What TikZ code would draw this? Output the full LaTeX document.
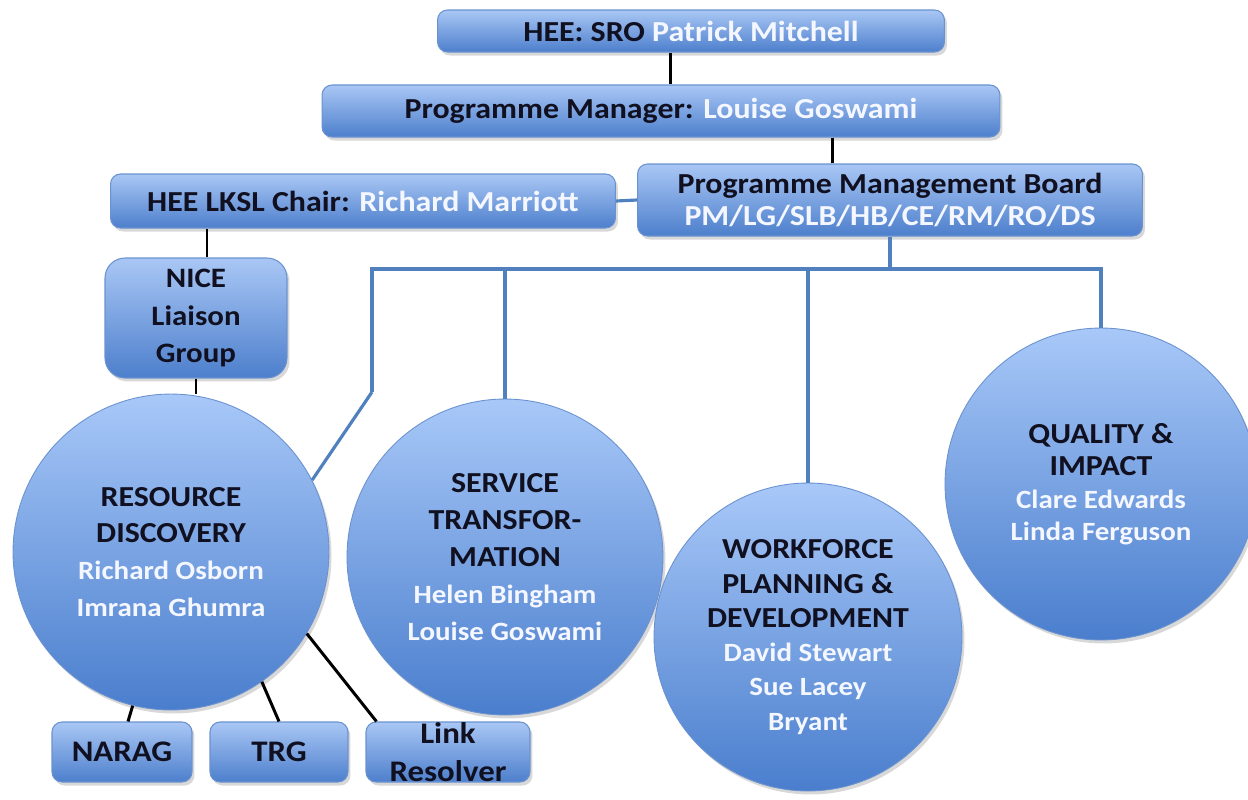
\documentclass[tikz,border=0pt]{standalone}
\usepackage{fontspec}
\setmainfont{Carlito}[FakeStretch=1.1]
\usetikzlibrary{shadows}
\definecolor{boxtop}{HTML}{A9C7F5}
\definecolor{boxbot}{HTML}{4D7FCC}
\definecolor{boxline}{HTML}{6B92D0}
\definecolor{disctop}{HTML}{A8C8F8}
\definecolor{discbot}{HTML}{4A7ECD}
\definecolor{busblue}{HTML}{5080BE}
\definecolor{darktext}{HTML}{101020}
\definecolor{namewhite}{HTML}{F4F7FF}
\newcommand{\who}[1]{\textcolor{namewhite}{#1}}
\newcommand{\crew}[1]{{\fontsize{15}{18}\selectfont\who{#1}}}
\begin{document}
\begin{tikzpicture}[x=0.02cm,y=-0.02cm,
	box/.style={draw=boxline,line width=0.6pt,rounded corners=0.2cm,top color=boxtop,bottom color=boxbot,
		drop shadow={shadow xshift=0.05cm,shadow yshift=-0.07cm,opacity=0.3},
		text=darktext,font=\bfseries\fontsize{16.5}{18}\selectfont,align=center,inner sep=0pt},
	disc/.style={circle,draw=boxline,line width=0.5pt,top color=disctop,bottom color=discbot,
		drop shadow={shadow xshift=0.05cm,shadow yshift=-0.07cm,opacity=0.3},
		text=darktext,font=\bfseries\fontsize{16.5}{21}\selectfont,align=center,inner sep=0pt},
	busline/.style={draw=busblue,line width=1.8pt},
	blackline/.style={draw=black,line width=1.7pt}]
		\clip (0,0) rectangle (1248,799);
		\fill[white] (0,0) rectangle (1248,799);
		\node[box,minimum width=10.14cm,minimum height=0.84cm] (sro) at (691,31) {HEE: SRO \who{Patrick Mitchell}};
		\node[box,minimum width=13.56cm,minimum height=1.04cm] (pm) at (661,111) {Programme Manager: \who{Louise Goswami}};
		\node[box,minimum width=10.1cm,minimum height=1.08cm] (chair) at (363,201) {HEE LKSL Chair: \who{Richard Marriott}};
		\node[box,minimum width=10.1cm,minimum height=1.44cm] (pmb) at (890,200) {Programme Management Board\\\who{PM/LG/SLB/HB/CE/RM/RO/DS}};
		\node[box,rounded corners=0.4cm,minimum width=3.64cm,minimum height=2.4cm,font=\bfseries\fontsize{16}{21.5}\selectfont] (nice) at (196,318) {NICE\\Liaison\\Group};
		\node[disc,minimum size=6.32cm] (resdisc) at (171,552) {RESOURCE\\DISCOVERY\\\crew{Richard Osborn}\\\crew{Imrana Ghumra}};
		\node[disc,minimum size=6.32cm] (servtrans) at (505,557) {SERVICE\\TRANSFOR-\\MATION\\\crew{Helen Bingham}\\\crew{Louise Goswami}};
		\node[disc,minimum size=6.16cm,font=\bfseries\fontsize{16.5}{19.5}\selectfont] (workforce) at (808,637) {WORKFORCE\\PLANNING \&\\DEVELOPMENT\\\crew{David Stewart}\\\crew{Sue Lacey}\\\crew{Bryant}};
		\node[disc,minimum size=6.24cm,font=\bfseries\fontsize{16.5}{18.5}\selectfont] (quality) at (1101,484) {QUALITY \&\\IMPACT\\\crew{Clare Edwards}\\\crew{Linda Ferguson}};
		\node[box,minimum width=2.8cm,minimum height=1.2cm,font=\bfseries\fontsize{17}{21.5}\selectfont] (narag) at (122,752) {NARAG};
		\node[box,minimum width=2.76cm,minimum height=1.2cm,font=\bfseries\fontsize{17}{21.5}\selectfont] (trg) at (279,752) {TRG};
		\node[box,minimum width=3.28cm,minimum height=1.2cm,font=\bfseries\fontsize{17}{21.5}\selectfont] (linkres) at (448,752) {Link\\Resolver};
		% blue bus
		\coordinate (busL) at (372,269);
		\coordinate (busR) at (quality.north |- busL);
		\coordinate (bend) at (372,392);
		\draw[busline] (chair.east) -- (pmb.west);
		\draw[busline] (pmb.south) -- (pmb.south |- busL);
		\draw[busline] (bend) -- (busL) -- (busR) -- (quality.north);
		\draw[busline] (bend) -- (resdisc.27);
		\draw[busline] (servtrans.north |- busL) -- (servtrans.north);
		\draw[busline] (workforce.north |- busL) -- (workforce.north);
		% black links
		\draw[blackline] ([xshift=-0.42cm]sro.south) -- ([xshift=-0.42cm]sro.south |- pm.north);
		\draw[blackline] ([xshift=-1.16cm]pmb.north) -- ([xshift=-1.16cm]pmb.north |- pm.south);
		\draw[blackline] ([xshift=0.22cm]nice.north) -- ([xshift=0.22cm]nice.north |- chair.south);
		\draw[blackline] (nice.south) -- (nice.south |- resdisc.north);
		\draw[blackline] (resdisc.256) -- ([xshift=0.12cm]narag.north);
		\draw[blackline] (resdisc.-55) -- (trg.north);
		\draw[blackline] (resdisc.-31) -- ([xshift=0.22cm]linkres.north west);
	\end{tikzpicture}
\end{document}
